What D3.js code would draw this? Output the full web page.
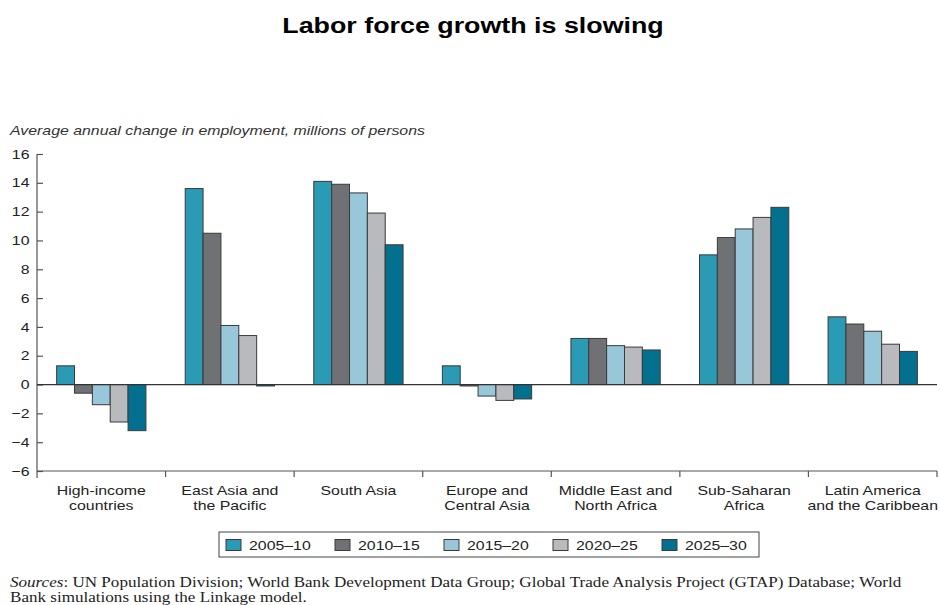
<!DOCTYPE html>
<html>
<head>
<meta charset="utf-8">
<script src="https://cdn.jsdelivr.net/npm/d3@7"></script>
<style>
  html, body { margin: 0; padding: 0; background: #fff; }
  svg { display: block; }
</style>
</head>
<body>
<svg id="chart" width="940" height="605"></svg>
<script>
// Regions, shown along the x axis (each label split over two lines)
const regions = [
  ["High-income", "countries"],
  ["East Asia and", "the Pacific"],
  ["South Asia"],
  ["Europe and", "Central Asia"],
  ["Middle East and", "North Africa"],
  ["Sub-Saharan", "Africa"],
  ["Latin America", "and the Caribbean"]
];

// Periods (one bar per period in each region)
const periods = ["2005–10", "2010–15", "2015–20", "2020–25", "2025–30"];

// Average annual change in employment, millions of persons, per period
const v2005_10 = [1.3, 13.6, 14.1, 1.3, 3.2, 9.0, 4.7];
const v2010_15 = [-0.6, 10.5, 13.9, -0.1, 3.2, 10.2, 4.2];
const v2015_20 = [-1.4, 4.1, 13.3, -0.8, 2.7, 10.8, 3.7];
const v2020_25 = [-2.6, 3.4, 11.9, -1.1, 2.6, 11.6, 2.8];
const v2025_30 = [-3.2, -0.1, 9.7, -1.0, 2.4, 12.3, 2.3];

const yTicks = [-6, -4, -2, 0, 2, 4, 6, 8, 10, 12, 14, 16];

const seriesValues = [v2005_10, v2010_15, v2015_20, v2020_25, v2025_30];
const colors = ["#2a9ab5", "#707175", "#97c7d9", "#b9babd", "#04708f"];

// Text in this figure is set slightly wide
const SX = 1.22;
const SANS = "Liberation Sans, Arial, sans-serif";
const SERIF = "Liberation Serif, Times New Roman, serif";

const svg = d3.select("#chart");
const regionKeys = regions.map(r => r.join(" "));

const x = d3.scaleBand().domain(regionKeys).range([37, 937]).paddingInner(0).paddingOuter(0);
const xInner = d3.scaleBand().domain(periods).range([0, x.bandwidth()]).paddingInner(0).paddingOuter(1.1);
const y = d3.scaleLinear().domain([-6, 16]).range([471, 154]);
const color = d3.scaleOrdinal().domain(periods).range(colors);

// Place a widened text block at (tx, ty)
function wideText(parent, tx, ty) {
  return parent.append("g")
    .attr("transform", `translate(${tx},${ty}) scale(${SX},1)`)
    .append("text");
}

// Title
wideText(svg, 473, 33)
  .attr("text-anchor", "middle")
  .attr("font-family", SANS)
  .attr("font-weight", "bold")
  .attr("font-size", 22)
  .attr("fill", "#000")
  .text("Labor force growth is slowing");

// Axis caption
wideText(svg, 10, 135)
  .attr("font-family", SANS)
  .attr("font-style", "italic")
  .attr("font-size", 13)
  .attr("fill", "#333")
  .text("Average annual change in employment, millions of persons");

// Y axis
const yAxis = svg.append("g")
  .attr("transform", "translate(37,0)")
  .call(d3.axisLeft(y).tickValues(yTicks).tickSize(-6)
    .tickFormat(d => d < 0 ? "\u2212" + Math.abs(d) : d));
yAxis.select(".domain").remove();
yAxis.selectAll(".tick line").attr("stroke", "#555").attr("stroke-width", 1.2);
yAxis.selectAll("text")
  .attr("x", -7.5 / SX)
  .attr("transform", `scale(${SX},1)`)
  .attr("font-family", SANS)
  .attr("font-size", 13)
  .attr("fill", "#222");
svg.append("line")
  .attr("x1", 37).attr("x2", 37)
  .attr("y1", y(16)).attr("y2", 478)
  .attr("stroke", "#555").attr("stroke-width", 1.2);

// X axis along the bottom, ticks between regions
const xAxisG = svg.append("g").attr("transform", "translate(0,471)");
xAxisG.append("line")
  .attr("x1", 37).attr("x2", 937)
  .attr("stroke", "#555").attr("stroke-width", 1.2);
const sepX = regionKeys.slice(1).map(k => x(k)).concat([x.range()[1]]);
xAxisG.selectAll("line.sep")
  .data(sepX)
  .join("line")
  .attr("class", "sep")
  .attr("x1", d => d).attr("x2", d => d)
  .attr("y1", 0).attr("y2", 6)
  .attr("stroke", "#555").attr("stroke-width", 1.2);

// Region labels
regions.forEach((lines, i) => {
  const t = wideText(svg, x(regionKeys[i]) + x.bandwidth() / 2, 494.5)
    .attr("text-anchor", "middle")
    .attr("font-family", SANS)
    .attr("font-size", 13)
    .attr("fill", "#222");
  lines.forEach((ln, j) => {
    t.append("tspan")
      .attr("x", 0)
      .attr("dy", j === 0 ? 0 : 16)
      .text(ln);
  });
});

// Bars
const groups = svg.append("g").selectAll("g")
  .data(regionKeys)
  .join("g")
  .attr("transform", d => `translate(${x(d)},0)`);

groups.selectAll("rect")
  .data((d, i) => periods.map((p, k) => ({ period: p, value: seriesValues[k][i] })))
  .join("rect")
  .attr("x", d => xInner(d.period))
  .attr("width", xInner.bandwidth())
  .attr("y", d => y(Math.max(0, d.value)))
  .attr("height", d => Math.abs(y(d.value) - y(0)))
  .attr("fill", d => color(d.period))
  .attr("stroke", "#3a3a3a")
  .attr("stroke-width", 1);

// Zero line
svg.append("line")
  .attr("x1", 37).attr("x2", 937)
  .attr("y1", y(0)).attr("y2", y(0))
  .attr("stroke", "#333").attr("stroke-width", 1.2);

// Legend
const legend = svg.append("g");
legend.append("rect")
  .attr("x", 219).attr("y", 532)
  .attr("width", 540).attr("height", 25)
  .attr("fill", "#fff")
  .attr("stroke", "#444").attr("stroke-width", 1);
const legendItems = legend.selectAll("g")
  .data(periods)
  .join("g")
  .attr("transform", (d, i) => `translate(${226 + i * 109},539.5)`);
legendItems.append("rect")
  .attr("width", 15).attr("height", 11)
  .attr("fill", d => color(d))
  .attr("stroke", "#3a3a3a");
legendItems.each(function (d) {
  wideText(d3.select(this), 23, 10.5)
    .attr("font-family", SANS)
    .attr("font-size", 13)
    .attr("fill", "#222")
    .text(d);
});

// Sources note
const s1 = wideText(svg, 10, 587)
  .attr("font-family", SERIF).attr("font-size", 14).attr("fill", "#222");
s1.append("tspan").attr("font-style", "italic").text("Sources");
s1.append("tspan").text(": UN Population Division; World Bank Development Data Group; Global Trade Analysis Project (GTAP) Database; World");
wideText(svg, 10, 602)
  .attr("font-family", SERIF).attr("font-size", 14).attr("fill", "#222")
  .text("Bank simulations using the Linkage model.");
</script>
</body>
</html>
